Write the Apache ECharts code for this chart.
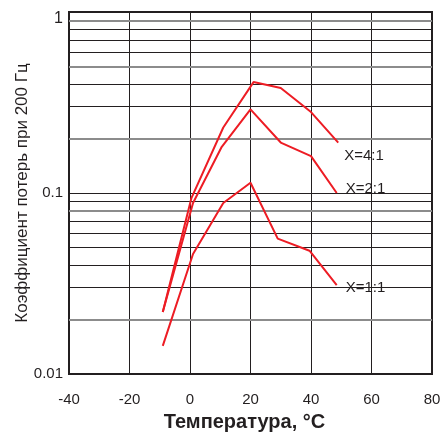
<!DOCTYPE html>
<html>
<head>
<meta charset="utf-8">
<script src="https://cdn.jsdelivr.net/npm/echarts@6/dist/echarts.min.js"></script>
<style>
  html, body { margin: 0; padding: 0; background: #fff; }
  #chart { width: 441px; height: 432px; }
</style>
</head>
<body>
<div id="chart"></div>
<script>
// values
const xTicks = [-40, -20, 0, 20, 40, 60, 80]
const yTicks = [0.01, 0.1, 1]

const temps41 = [-9, 0.5, 11, 21, 30, 40, 49]
const loss41 = [0.022, 0.094, 0.23, 0.41, 0.38, 0.28, 0.19]

const temps21 = [-9, 1, 10.5, 20, 30, 40, 48.5]
const loss21 = [0.022, 0.088, 0.18, 0.29, 0.19, 0.16, 0.1]

const temps11 = [-9, 1, 11, 20, 29, 39.5, 48.5]
const loss11 = [0.0143, 0.046, 0.088, 0.114, 0.056, 0.048, 0.031]

const seriesNames = ['X=4:1', 'X=2:1', 'X=1:1']

// minor log grid lines, some of them drawn grey
const minorLines = [0.02, 0.03, 0.04, 0.05, 0.06, 0.07, 0.08, 0.09,
  0.2, 0.3, 0.4, 0.5, 0.6, 0.7, 0.8, 0.9]
const greyLines = [0.02, 0.08, 0.2, 0.5, 0.9]

const textColor = '#231f20'
const red = '#ed1c24'
const font = 'Liberation Sans, Arial, sans-serif'

const zip = (xs, ys) => xs.map((x, i) => [x, ys[i]])

const curve = (name, xs, ys, offset, extra) => ({
  name: name,
  type: 'line',
  data: zip(xs, ys),
  symbol: 'none',
  lineStyle: { color: red, width: 2 },
  endLabel: {
    show: true,
    formatter: name,
    color: textColor,
    fontSize: 15,
    fontFamily: font,
    distance: 4,
    offset: offset
  },
  z: 5,
  ...extra
})

const chart = echarts.init(document.getElementById('chart'))

chart.setOption({
  animation: false,
  grid: {
    left: 69,
    right: 9,
    top: 12,
    bottom: 58,
    outerBoundsMode: 'none',
    show: true,
    borderColor: textColor,
    borderWidth: 2
  },
  xAxis: {
    type: 'value',
    min: xTicks[0],
    max: xTicks[xTicks.length - 1],
    interval: 20,
    name: 'Температура, °C',
    nameLocation: 'middle',
    nameGap: 38,
    nameMoveOverlap: false,
    nameTextStyle: {
      color: textColor,
      fontSize: 20,
      fontWeight: 'bold',
      fontFamily: font,
      padding: [0, 12, 0, 0]
    },
    axisLine: { show: false },
    axisTick: { show: false },
    axisLabel: { color: textColor, fontSize: 15, fontFamily: font, margin: 18 },
    splitLine: { show: true, lineStyle: { color: textColor, width: 1 } }
  },
  yAxis: {
    type: 'log',
    logBase: 10,
    min: yTicks[0],
    max: yTicks[yTicks.length - 1],
    name: 'Коэффициент потерь при 200 Гц',
    nameLocation: 'middle',
    nameGap: 38,
    nameMoveOverlap: false,
    nameTextStyle: { color: textColor, fontSize: 17, fontFamily: font },
    axisLine: { show: false },
    axisTick: { show: false },
    axisLabel: {
      color: textColor,
      fontSize: 15,
      fontFamily: font,
      margin: 6,
      formatter: v => (v === 1 ? '{top|1}' : String(v)),
      rich: {
        top: { fontSize: 16, color: textColor, fontFamily: font, padding: [14, 0, 0, 0] }
      }
    },
    splitLine: { show: true, lineStyle: { color: textColor, width: 1 } }
  },
  series: [
    curve(seriesNames[0], temps41, loss41, [2, 13], {
      markLine: {
        silent: true,
        symbol: 'none',
        label: { show: false },
        animation: false,
        data: minorLines.map(v => ({
          yAxis: v,
          lineStyle: greyLines.includes(v)
            ? { color: '#8c8c8c', width: 2, type: 'solid' }
            : { color: textColor, width: 1, type: 'solid' }
        }))
      }
    }),
    curve(seriesNames[1], temps21, loss21, [5, -4]),
    curve(seriesNames[2], temps11, loss11, [5, 3])
  ]
})

window.addEventListener('resize', () => {
  chart.resize()
})
</script>
</body>
</html>
